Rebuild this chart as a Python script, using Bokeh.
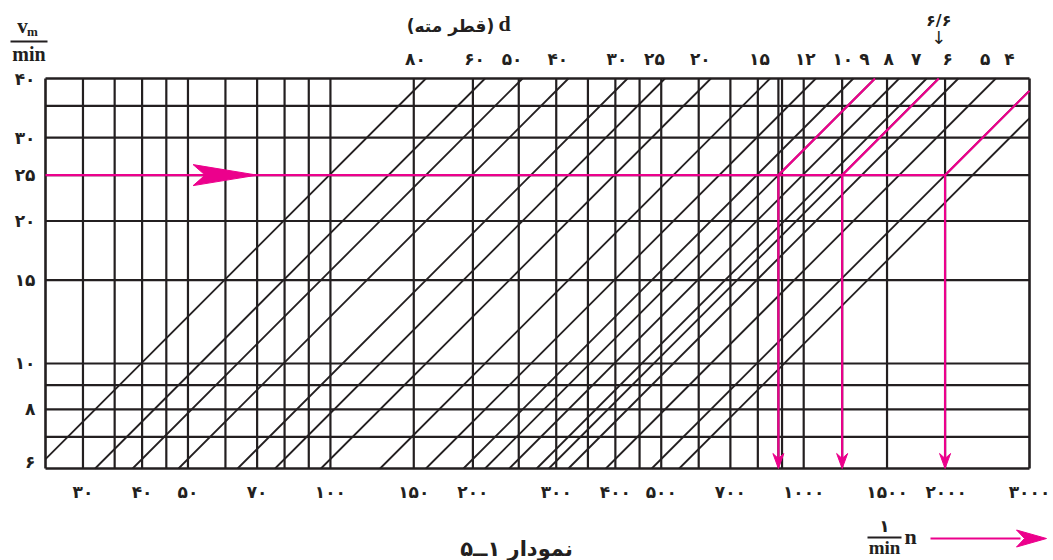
import math
from bokeh.plotting import figure
from bokeh.core.properties import value
from bokeh.embed import file_html
from bokeh.resources import INLINE

# ---------------- data ----------------
n_min, n_max = 25, 3000          # spindle speed n (1/min): nomogram x extent
v_min, v_max = 6, 40             # cutting speed v (m/min): nomogram y extent
n_grid = [30, 35, 40, 45, 50, 60, 70, 80, 90, 100, 150, 200, 250, 300, 350,
          400, 450, 500, 600, 700, 800, 900, 1000, 1500]
v_grid = [7, 8, 9, 10, 15, 20, 25, 30, 35]
d_lines = [80, 60, 50, 40, 30, 25, 20, 15, 12, 10, 9, 8, 7, 6.6, 6, 5, 4, 3.5]
d_labels = [80, 60, 50, 40, 30, 25, 20, 15, 12, 10, 9, 8, 7, 6, 5, 4]
n_ticks = [30, 40, 50, 70, 100, 150, 200, 300, 400, 500, 700, 1000, 1500, 2000, 3000]
v_ticks = [6, 8, 10, 15, 20, 25, 30, 40]
v_example = 25                   # worked example: v = 25 m/min
d_example = [9, 6.6, 4]          # drill diameters of the example
n_arrow_tip = 70                 # tip of the arrow drawn on the v = 25 line
d_marked = 6.6                   # diameter marked with an arrow on top

BLACK = "#231f20"
PINK = "#ec008c"
FA = str.maketrans("0123456789.", "۰۱۲۳۴۵۶۷۸۹/")
W, H = 1053, 560
FL, FR, FT, FB = 45, 1029, 78, 468   # nomogram frame, in canvas pixels


def fa(x):
    return f"{x:g}".translate(FA)


def v_of(d, n):
    return math.pi * d * n / 1000.0


def n_of(d, v):
    return 1000.0 * v / (math.pi * d)


LX = math.log10(n_max / n_min)
LY = math.log10(v_max / v_min)
PX = (FR - FL) / LX     # pixels per decade, x
PY = (FB - FT) / LY     # pixels per decade, y


def nx(px):
    return n_min * 10 ** ((px - FL) / PX)


def vy(py):
    return v_min * 10 ** ((FB - py) / PY)


p = figure(x_axis_type="log", y_axis_type="log",
           x_range=(nx(0), nx(W)), y_range=(vy(H), vy(0)),
           width=W, height=H, min_border=0,
           toolbar_location=None, output_backend="svg",
           background_fill_color="white", border_fill_color="white")
p.axis.visible = False
p.grid.visible = False
p.outline_line_color = None

# ---------------- grid and frame ----------------
n_ex = [n_of(d, v_example) for d in d_example]
vert = n_grid + n_ex
p.segment(x0=vert, y0=[v_min] * len(vert), x1=vert, y1=[v_max] * len(vert),
          line_color=BLACK, line_width=2.2)
p.segment(x0=[n_min] * len(v_grid), y0=v_grid, x1=[n_max] * len(v_grid), y1=v_grid,
          line_color=BLACK, line_width=2.2)
p.segment(x0=[n_min, n_max, n_min, n_min], y0=[v_min, v_min, v_min, v_max],
          x1=[n_min, n_max, n_max, n_max], y1=[v_max, v_max, v_min, v_max],
          line_color=BLACK, line_width=2.6)

# ---------------- diameter lines v = pi d n / 1000 ----------------
x0s, y0s, x1s, y1s = [], [], [], []
for d in d_lines:
    a = max(n_min, n_of(d, v_min))
    b = min(n_max, n_of(d, v_max))
    x0s.append(a); y0s.append(v_of(d, a)); x1s.append(b); y1s.append(v_of(d, b))
p.segment(x0=x0s, y0=y0s, x1=x1s, y1=y1s, line_color=BLACK, line_width=1.8)


# ---------------- arrow heads (shape in pixels, placed on data) ----------------
def head_right(n_tip, v, length, width, notch):
    fx, fn, fy = 10 ** (length / PX), 10 ** (notch / PX), 10 ** (width / 2 / PY)
    return ([n_tip / fx, n_tip, n_tip / fx, n_tip / fn], [v * fy, v, v / fy, v])


def head_down(n, v_tip, length, width, notch):
    fy, fn, fx = 10 ** (length / PY), 10 ** (notch / PY), 10 ** (width / 2 / PX)
    return ([n / fx, n, n * fx, n], [v_tip * fy, v_tip, v_tip * fy, v_tip * fn])


# ---------------- worked example (pink) ----------------
p.segment(x0=[n_min], y0=[v_example], x1=[max(n_ex)], y1=[v_example],
          line_color=PINK, line_width=2.2)
ux0, uy0, ux1, uy1 = [], [], [], []
for d, n in zip(d_example, n_ex):
    b = min(n_max, n_of(d, v_max))
    ux0.append(n); uy0.append(v_example); ux1.append(b); uy1.append(v_of(d, b))
p.segment(x0=ux0, y0=uy0, x1=ux1, y1=uy1, line_color=PINK, line_width=2.2)
p.segment(x0=n_ex, y0=[v_example] * 3, x1=n_ex, y1=[vy(FB - 8)] * 3,
          line_color=PINK, line_width=2.2)
hx, hy = [], []
for n in n_ex:
    xs, ys = head_down(n, v_min, 15, 11, 10)
    hx.append(xs); hy.append(ys)
xs, ys = head_right(n_arrow_tip, v_example, 64, 21, 52)
hx.append(xs); hy.append(ys)
p.patches(xs=hx, ys=hy, fill_color=PINK, line_color=PINK, line_width=1)


# ---------------- texts ----------------
def txt(xs, ys, texts, font, size, bold=True, align="center", color=BLACK):
    p.text(x=xs, y=ys, text=texts, text_font=value(font),
           text_font_size=value(f"{size}px"),
           text_font_style="bold" if bold else "normal",
           text_align=align, text_baseline="middle", text_color=color)


PERS = "DejaVu Sans"
SERIF = "Liberation Serif"

# n scale (bottom)
txt(n_ticks, [vy(491)] * len(n_ticks), [fa(t) for t in n_ticks], PERS, 17)
# v scale (left)
v_lab_y = [min(max(v, vy(461)), vy(70)) for v in v_ticks]
txt([nx(35)] * len(v_ticks), v_lab_y, [fa(t) for t in v_ticks], PERS, 17,
    align="right")
# d scale (top): each label sits just left of where its line meets the top edge
n_lab = [min(0.95 * n_of(d, v_max), nx(1009)) for d in d_labels]
txt(n_lab, [vy(58)] * len(n_lab), [fa(d) for d in d_labels], PERS, 17)
# marked diameter 6.6
n66 = n_of(d_marked, v_max)
txt([n66], [vy(20)], [fa(d_marked)], PERS, 16)
txt([n66], [vy(37)], ["↓"], PERS, 18, bold=False)

# top title: d (قطر مته)
txt([nx(450)], [vy(25)], ["(قطر مته)"], PERS, 17)
txt([nx(504)], [vy(23)], ["d"], SERIF, 22)

# y unit: v_m / min
txt([nx(22)], [vy(25)], ["v"], SERIF, 21)
txt([nx(32)], [vy(31)], ["m"], SERIF, 13)
txt([nx(28.5)], [vy(53)], ["min"], SERIF, 20)
# x unit: 1/min n
txt([nx(884)], [vy(525)], ["۱"], PERS, 17)
txt([nx(884)], [vy(547)], ["min"], SERIF, 19)
txt([nx(910)], [vy(536)], ["n"], SERIF, 22)
# fraction bars
p.segment(x0=[nx(10), nx(867)], y0=[vy(41), vy(537)],
          x1=[nx(47), nx(901)], y1=[vy(41), vy(537)],
          line_color=BLACK, line_width=1.8)
# direction arrow of n
p.segment(x0=[nx(930)], y0=[vy(538)], x1=[nx(1020)], y1=[vy(538)],
          line_color=PINK, line_width=2.2)
xs, ys = head_right(nx(1046), vy(538), 30, 17, 22)
p.patch(x=xs, y=ys, fill_color=PINK, line_color=PINK, line_width=1)

# chart caption
txt([nx(516)], [vy(548)], ["نمودار ۱ــ۵"], PERS, 21)

open("out.html", "w").write(file_html(p, INLINE))
